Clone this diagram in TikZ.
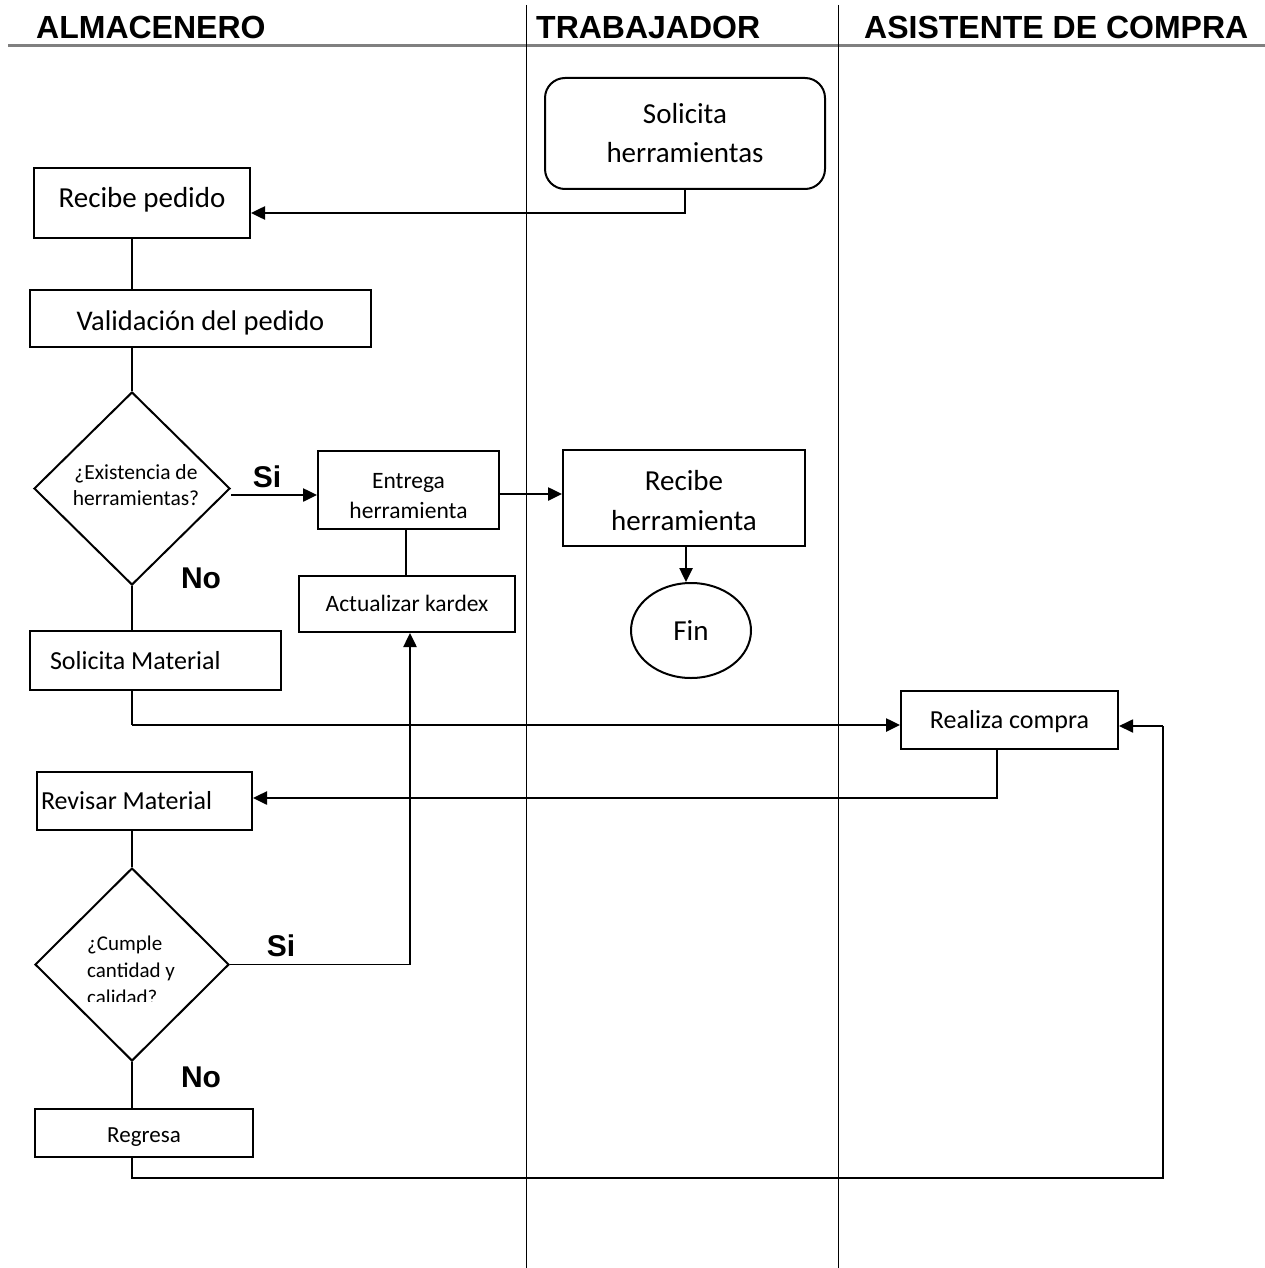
\documentclass[tikz,border=0pt]{standalone}
\usepackage{fontspec}
\setmainfont{Carlito}
\newfontfamily\hdr{Liberation Sans}
\usetikzlibrary{shapes.geometric,arrows.meta}
\newcommand\myfs[2]{\fontsize{#1}{#2}\selectfont}
\newcommand\shiftbox[2]{\raisebox{#1}[\height][\depth]{#2}}
\begin{document}
\begin{tikzpicture}[x=1pt,y=-1pt,
  box/.style={draw, line width=2pt, inner sep=0pt, align=center},
  dia/.style={draw, diamond, line width=2pt, inner sep=0pt},
  arr/.style={line width=2.5pt, -{Triangle[length=14pt,width=13pt]}},
  conn/.style={line width=1.3pt},
  lbl/.style={font=\hdr\bfseries\myfs{30}{36}, inner sep=0pt},
  head/.style={font=\hdr\bfseries\myfs{32}{38}, inner sep=0pt, anchor=base west},
  lane/.style={line width=1pt}
]
\useasboundingbox (0,0) rectangle (1265,1268);

% headers
\draw[gray, line width=3pt] (8,46) -- (1265,46);
\draw[lane] (526,5) -- (526,1268);
\draw[lane] (838,5) -- (838,1268);
\node[head] (h1) at (36,39) {ALMACENERO};
\node[head] (h2) at (536,39) {TRABAJADOR};
\node[head] (h3) at (864,39) {ASISTENTE DE COMPRA};

% nodes
\node[box, minimum width=280, minimum height=111, rounded corners=20pt, font=\myfs{29}{39}] (s1) at (685,133.5) {Solicita\\herramientas};
\node[box, minimum width=216, minimum height=70, font=\myfs{29}{35}] (rp) at (142,203) {\shiftbox{3pt}{Recibe pedido}};
\node[box, minimum width=341, minimum height=57, font=\myfs{28.5}{34}] (vp) at (200.5,318.5) {\shiftbox{-4pt}{Validación del pedido}};
\node[dia, minimum width=196, minimum height=193] (d1) at (132,488.5) {};
\node[align=center, inner sep=0pt, font=\myfs{21.5}{26}] (d1t) at (136,485) {¿Existencia de\\herramientas?};
\node[lbl] (si1) at (267,477) {Si};
\node[box, minimum width=181, minimum height=78, font=\myfs{23.5}{30}] (e1) at (408.5,490) {\rule{0pt}{27.6pt}Entrega\\herramienta};
\node[box, minimum width=242, minimum height=96, font=\myfs{29}{40}] (r2) at (684,498) {\rule{0pt}{25pt}Recibe\\herramienta};
\node[draw, ellipse, line width=2pt, minimum width=120, minimum height=95, inner sep=0pt, font=\myfs{29}{35}] (fin) at (691,630.5) {Fin};
\node[box, minimum width=216, minimum height=56, font=\myfs{23.5}{29}] (ak) at (407,604) {\shiftbox{1pt}{Actualizar kardex}};
\node[lbl] (no1) at (201,578) {No};
\node[box, minimum width=251, minimum height=59, inner xsep=20pt, font=\myfs{26}{31}] (sm) at (155.5,660.5) {\makebox[211pt][l]{Solicita Material}};
\node[box, minimum width=217, minimum height=58, font=\myfs{26}{31}] (rc) at (1009.5,720) {\shiftbox{-2pt}{Realiza compra}};
\node[box, minimum width=215, minimum height=58, inner xsep=4pt, font=\myfs{26}{31}] (rm) at (144.5,801) {\makebox[207pt][l]{Revisar Material}};
\node[dia, minimum width=194, minimum height=193] (d2) at (132,964.5) {};
\begin{scope}
  \clip (50,915) rectangle (220,1001);
  \node[align=left, inner sep=0pt, anchor=north west, font=\myfs{21}{27}] (d2t) at (87,936) {¿Cumple\\cantidad y\\calidad?};
\end{scope}
\node[lbl] (si2) at (281,946) {Si};
\node[lbl] (no2) at (201,1077) {No};
\node[box, minimum width=218, minimum height=48, font=\myfs{23}{28}] (rg) at (144,1133) {\shiftbox{-4pt}{Regresa}};

% connectors
\draw[arr] (s1.south) |- (rp.east |- 0,213);
\draw[conn] (rp.south -| d1.north) -- (vp.north -| d1.north);
\draw[conn] (vp.south -| d1.north) -- (d1.north);
\draw[arr] (d1.east |- 0,495) -- (e1.west |- 0,495);
\draw[arr] (e1.east |- 0,494) -- (r2.west |- 0,494);
\draw[arr] (r2.south -| 686,0) -- (fin.north -| 686,0);
\draw[conn] (e1.south -| 406,0) -- (ak.north -| 406,0);
\draw[conn] (d1.south) -- (sm.north -| d1.south);
\draw[conn] (sm.south -| d1.south) -- (132,725);
\draw[arr] (132,725) -- (rc.west |- 0,725);
\draw[arr] (rc.south -| 997,0) |- (rm.east |- 0,798);
\draw[conn] (rm.south -| d2.north) -- (d2.north);
\draw[conn] (d2.east) -- (d2.east -| 410,0);
\draw[arr] (d2.east -| 410,0) -- (ak.south -| 410,0);
\draw[conn] (d2.south) -- (rg.north -| d2.south);
\draw[conn] (rg.south -| d2.south) |- (1163,1178) -- (1163,726);
\draw[arr, line width=1.8pt] (1163,726) -- (rc.east |- 0,726);
\end{tikzpicture}
\end{document}
